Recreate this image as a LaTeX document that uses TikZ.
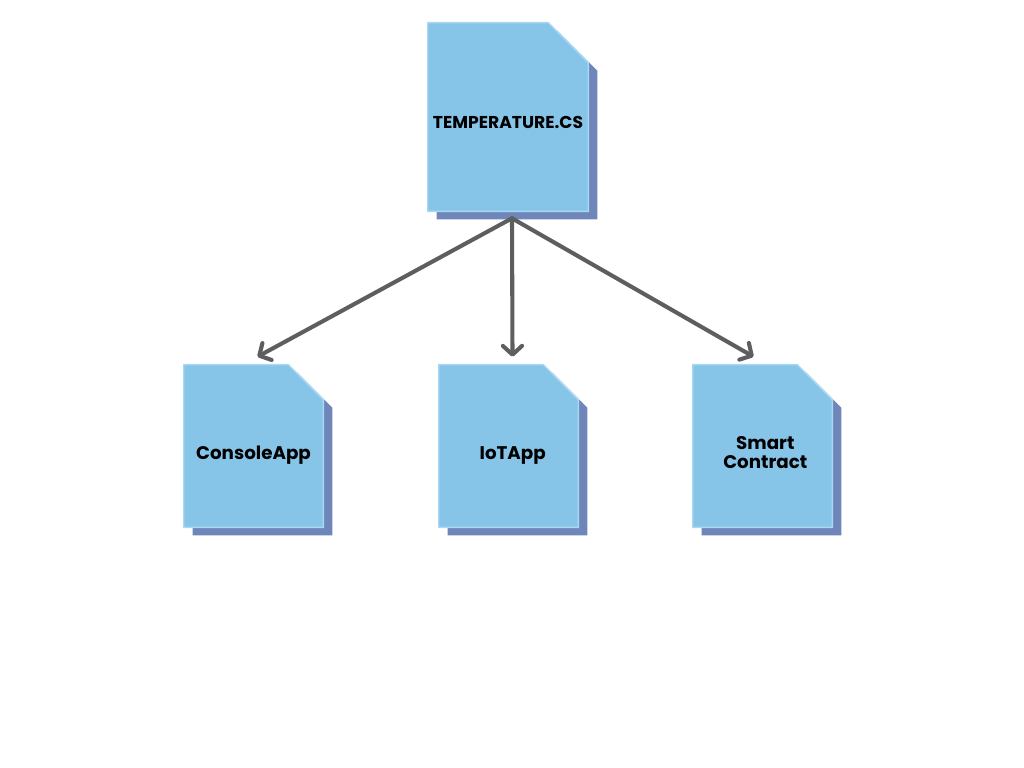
\documentclass[tikz,border=0pt]{standalone}
\usepackage{fontspec}
\setmainfont{Poppins}
\usetikzlibrary{arrows.meta, positioning, calc, backgrounds}
\definecolor{doccolor}{RGB}{134,196,232}
\definecolor{edgecolor}{RGB}{168,216,242}
\definecolor{shadowcolor}{RGB}{111,134,187}
\definecolor{arrowcolor}{RGB}{94,94,94}

\begin{document}
\begin{tikzpicture}[
    x=0.025cm, y=-0.025cm,
    doc/.style={inner sep=0pt, minimum width=3.475cm, minimum height=4.05cm},
    bigdoc/.style={doc, minimum width=4cm, minimum height=4.7cm},
    textbase/.style={align=center, inner sep=0pt},
    doctext/.style={textbase, font=\bfseries\fontsize{13}{13.5}\selectfont, yshift=-6.5pt},
    bigtext/.style={textbase, font=\bfseries\fontsize{12.2}{13}\selectfont, yshift=-3.8pt},
    docfront/.style={fill=doccolor, draw=edgecolor, line width=1pt},
    docshadow/.style={fill=shadowcolor},
    arrow/.style={-{Straight Barb[length=2.2mm, width=4.8mm, line cap=round, line join=round]}, line width=2.9pt, draw=arrowcolor, line cap=round}
]
    \useasboundingbox (0,0) rectangle (1024,768);

    % Files
    \node[bigdoc, label={[bigtext]center:TEMPERATURE.CS}] (temp) at (508,117) {};
    \node[doc, label={[doctext]center:ConsoleApp}] (console) at (253.5,446) {};
    \node[doc, label={[doctext, xshift=3pt]center:IoTApp}] (iot) at (508.5,446) {};
    \node[doc, label={[doctext, xshift=2pt, yshift=1.5pt]center:Smart\\Contract}] (smart) at (762.5,446) {};

    % Paper shapes behind the labels
    \begin{scope}[on background layer]
    \foreach \n/\c in {temp/40, console/35, iot/35, smart/35} {
        \fill[docshadow, transform canvas={shift={(9,8)}}] (\n.south west) -- (\n.north west) -- ($(\n.north east)+(-\c,0)$) -- ($(\n.north east)+(0,\c)$) -- (\n.south east) -- cycle;
        \path[docfront] (\n.south west) -- (\n.north west) -- ($(\n.north east)+(-\c,0)$) -- ($(\n.north east)+(0,\c)$) -- (\n.south east) -- cycle;
    }
    \end{scope}

    % Connections
    \coordinate (hub) at ($(temp.south)+(4,7)$);
    \draw[arrow] (hub) -- ($(console.north)+(4,-8)$);
    \draw[arrow] (hub) -- ($(iot.north)+(4,-8)$);
    \draw[arrow] (hub) -- ($(smart.north)+(-9,-8)$);
\end{tikzpicture}
\end{document}
